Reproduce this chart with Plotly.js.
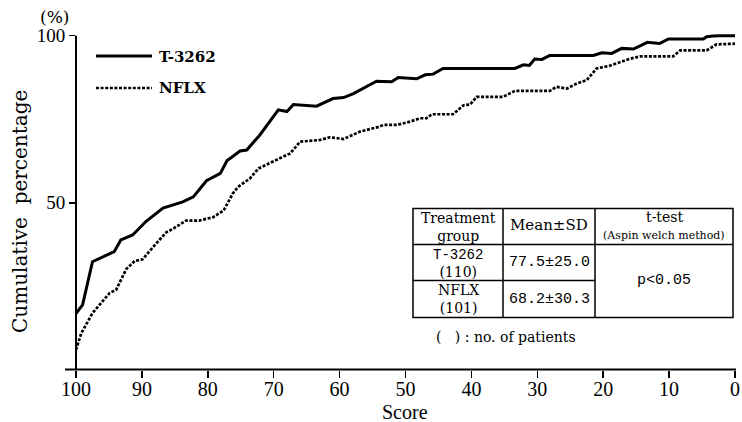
<!DOCTYPE html>
<html>
<head>
<meta charset="utf-8">
<script src="https://cdn.plot.ly/plotly-3.0.1.min.js"></script>
<style>html,body{margin:0;padding:0;background:#fff;}#chart{width:742px;height:422px;}</style>
</head>
<body>
<div id="chart"></div>
<script>
// ---- data ----
var seriesNames = ['T-3262', 'NFLX'];
var t3262Score = [100, 99, 97.5, 94.2, 93.2, 91.4, 89.4, 86.8, 83.8, 82.2, 80.2, 78.1, 77.1, 75.1, 74.1, 72.1, 69.3, 68.0, 67.0, 63.5, 61.0, 59.4, 57.9, 56.4, 54.4, 52.1, 51.1, 48.3, 47.0, 45.8, 44.3, 33.4, 32.1, 31.2, 30.4, 29.3, 28.1, 21.5, 20.2, 18.7, 17.2, 15.4, 13.3, 11.4, 10.1, 4.8, 4.3, 3.3, 2.3, 0];
var t3262Pct = [16.9, 19.5, 32.4, 35.4, 38.9, 40.4, 44.4, 48.4, 50.3, 51.8, 56.6, 58.8, 62.6, 65.5, 65.8, 70.3, 77.8, 77.3, 79.4, 78.9, 81.2, 81.5, 82.7, 84.2, 86.4, 86.2, 87.5, 87.1, 88.3, 88.5, 90.2, 90.2, 91.3, 91.1, 93.0, 92.9, 94.1, 94.1, 94.9, 94.7, 96.2, 96.0, 98.0, 97.7, 99.0, 99.0, 99.7, 99.9, 100, 100];
var nflxScore = [100, 99.2, 97.5, 94.9, 93.9, 92.4, 91.1, 89.9, 87.9, 86.3, 85.3, 83.3, 81.3, 79.2, 77.6, 76.2, 75.4, 73.6, 72.3, 69.5, 67.5, 66.0, 63.0, 61.5, 59.4, 56.9, 53.9, 53.4, 51.3, 49.3, 47.8, 46.8, 46.0, 42.8, 41.2, 40.2, 39.2, 35.2, 33.4, 28.1, 27.1, 25.5, 24.0, 22.5, 21.0, 19.0, 17.5, 15.9, 14.4, 9.4, 8.3, 4.3, 2.8, 0];
var nflxPct = [6, 11, 17, 23, 24, 30.1, 32.6, 33.1, 37.7, 41.2, 42.2, 44.7, 44.7, 45.7, 47.7, 52.8, 54.8, 57.3, 60.3, 62.9, 64.8, 68.3, 68.8, 69.6, 69.1, 71.3, 72.8, 73.3, 73.3, 74.3, 75.3, 75.3, 76.5, 76.5, 79.2, 79.4, 81.7, 81.7, 83.5, 83.5, 84.7, 84.2, 85.7, 86.7, 90.2, 91.0, 92.1, 93.1, 93.8, 93.8, 95.6, 95.6, 97.4, 97.6];
var xTickVals = [100, 90, 80, 70, 60, 50, 40, 30, 20, 10, 0];
var yTickVals = [50, 100];
var tableGroups = ['T-3262', 'NFLX'];
var tableN = ['(110)', '(101)'];
var tableMeanSD = ['77.5±25.0', '68.2±30.3'];
var tableTest = 'p<0.05';

// ---- layout helpers ----
var W = 742, H = 422, L = 76, R = 7, T = 29, B = 52;
var yRange = [0, 102];
function px(x) { return (x - L) / (W - L - R); }
function py(y) { return (H - B - y) / (H - T - B); }
var serif = 'DejaVu Serif';
var lserif = 'Liberation Serif';
var mono = 'Liberation Mono';

var traces = [
  {x: t3262Score, y: t3262Pct, type: 'scatter', mode: 'lines', name: seriesNames[0],
   line: {color: '#000', width: 3}, showlegend: false},
  {x: nflxScore, y: nflxPct, type: 'scatter', mode: 'lines', name: seriesNames[1],
   line: {color: '#000', width: 2.7, dash: '3px,1.6px'}, showlegend: false}
];

function ann(text, x, y, size, font, opts) {
  var a = {text: text, x: px(x), y: py(y), xref: 'paper', yref: 'paper', showarrow: false,
           font: {family: font || serif, size: size || 15, color: '#000'}, xanchor: 'center', yanchor: 'middle'};
  if (opts) for (var k in opts) a[k] = opts[k];
  return a;
}
function seg(x0, y0, x1, y1, w, dash) {
  return {type: 'line', xref: 'paper', yref: 'paper', x0: px(x0), y0: py(y0), x1: px(x1), y1: py(y1),
          line: {color: '#000', width: w || 1.5, dash: dash || 'solid'}};
}
function monoSpan(s) { return '<span style="font-family:' + mono + '">' + s + '</span>'; }

var shapes = [
  // axes lines
  seg(65, 369.5, 736, 369.5, 2),
  {type: 'line', xref: 'paper', yref: 'paper', x0: 0, x1: 0, y0: 0, y1: 100 / yRange[1], line: {color: '#000', width: 2}},
  // legend samples
  seg(96, 56, 152, 56, 3),
  seg(96, 88, 152, 88, 2.7, '3px,1.6px'),
  // table
  {type: 'rect', xref: 'paper', yref: 'paper', x0: px(413), x1: px(733), y0: py(317.5), y1: py(208.5),
   line: {color: '#000', width: 1.5}, fillcolor: '#fff', layer: 'above'},
  seg(503, 208.5, 503, 317.5),
  seg(595, 208.5, 595, 317.5),
  seg(413, 244.5, 733, 244.5),
  seg(413, 280.5, 595, 280.5)
];

var annotations = [
  ann('(%)', 54, 17, 17),
  ann('Cumulative&nbsp;&nbsp;percentage', 20, 212, 20, serif, {textangle: -90}),
  ann('Score', 405, 412, 20, lserif),
  ann(seriesNames[0], 157, 57, 15, serif, {xanchor: 'left', font: {family: serif, size: 15, color: '#000', weight: 'bold'}}),
  ann(seriesNames[1], 157, 88, 15, serif, {xanchor: 'left', font: {family: serif, size: 15, color: '#000', weight: 'bold'}}),
  ann('Treatment<br>group', 458, 227, 14),
  ann('Mean±SD', 549, 225, 15),
  ann('t-test', 664, 217, 14),
  ann('(Aspin welch method)', 664, 235, 11),
  ann(monoSpan(tableGroups[0]) + '<br>' + tableN[0], 458, 263, 14),
  ann(tableMeanSD[0], 549, 262, 15, mono),
  ann(tableGroups[1] + '<br>' + tableN[1], 458, 299, 14),
  ann(tableMeanSD[1], 549, 299, 15, mono),
  ann(tableTest, 664, 280, 15, mono),
  ann('(&nbsp;&nbsp;&nbsp;)&nbsp;: no. of patients', 506, 337, 14)
];

var layout = {
  width: W, height: H,
  margin: {l: L, r: R, t: T, b: B, pad: 0},
  paper_bgcolor: '#fff', plot_bgcolor: '#fff',
  font: {family: serif, color: '#000'},
  showlegend: false,
  xaxis: {
    range: [100, 0], tickvals: xTickVals, ticks: 'outside', ticklen: 7, tickwidth: 1.5, tickcolor: '#000',
    showgrid: false, zeroline: false, showline: false, ticklabelstandoff: -6,
    tickfont: {family: lserif, size: 20, color: '#000'},
    automargin: false
  },
  yaxis: {
    range: yRange, tickvals: yTickVals, ticks: 'outside', ticklen: 6, tickwidth: 1.5, tickcolor: '#000',
    showgrid: false, zeroline: false, showline: false,
    tickfont: {family: lserif, size: 19, color: '#000'},
    automargin: false
  },
  shapes: shapes,
  annotations: annotations
};

Plotly.newPlot('chart', traces, layout, {displayModeBar: false, staticPlot: true});
</script>
</body>
</html>
